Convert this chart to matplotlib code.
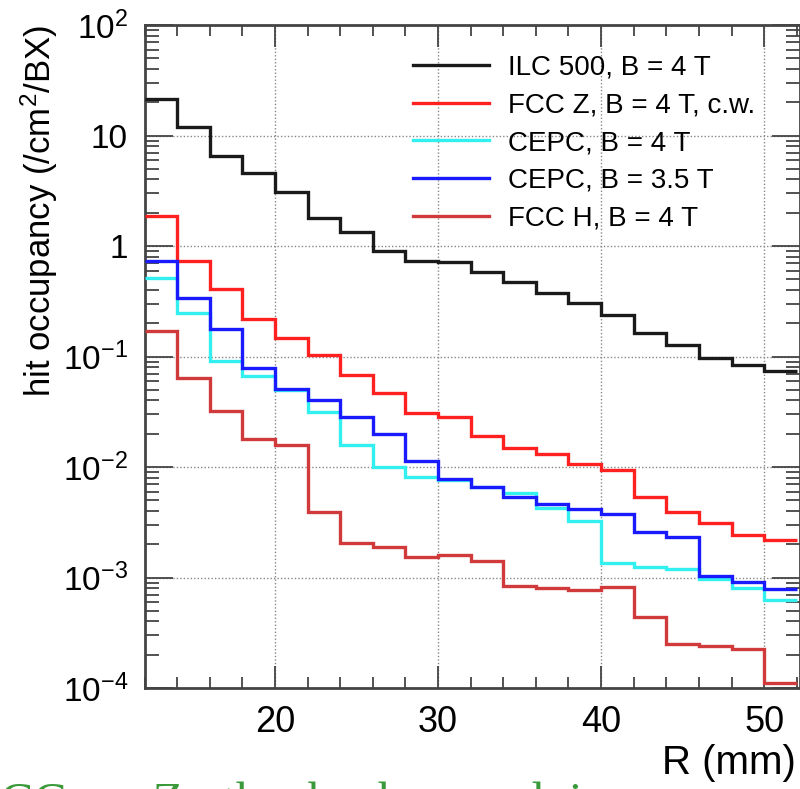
import numpy as np
import matplotlib
matplotlib.use("Agg")
import matplotlib.pyplot as plt
from matplotlib.ticker import FixedLocator, LogLocator, NullFormatter, FixedFormatter

plt.rcParams['font.family'] = ['Liberation Sans', 'DejaVu Sans']
plt.rcParams['mathtext.default'] = 'regular'

# bin edges R (mm)
edges = np.arange(12, 53, 2)

ilc500 = [21.4, 11.9, 6.56, 4.58, 3.08, 1.78, 1.35, 0.908, 0.731, 0.721,
          0.585, 0.475, 0.373, 0.303, 0.238, 0.162, 0.126, 0.097, 0.084, 0.074]
fccz = [1.87, 0.736, 0.408, 0.218, 0.147, 0.103, 0.0681, 0.0465, 0.0310, 0.0285,
        0.0192, 0.0148, 0.0131, 0.0106, 0.0093, 0.0054, 0.0039, 0.0031, 0.0024, 0.0022]
cepc4 = [0.517, 0.246, 0.0916, 0.0670, 0.050, 0.0316, 0.0158, 0.0101, 0.00817, 0.00763,
         0.0066, 0.00578, 0.00423, 0.00325, 0.00134, 0.00125, 0.00120, 0.00097, 0.000798, 0.000625]
cepc35 = [0.736, 0.340, 0.176, 0.0782, 0.0508, 0.0404, 0.0281, 0.0197, 0.01133, 0.00773,
          0.00664, 0.00539, 0.00459, 0.00417, 0.00376, 0.00260, 0.00231, 0.00103, 0.000917, 0.000787]
fcch = [0.170, 0.0635, 0.0321, 0.0178, 0.0157, 0.00394, 0.00207, 0.00188, 0.00152, 0.00160,
        0.00142, 0.000837, 0.000798, 0.000771, 0.000814, 0.000442, 0.000250, 0.000240, 0.000227, 0.000110]

labels = ["ILC 500, B = 4 T", "FCC Z, B = 4 T, c.w.", "CEPC, B = 4 T",
          "CEPC, B = 3.5 T", "FCC H, B = 4 T"]
colors = ["#1a1a1a", "#ff2020", "#33f0f0", "#1a1aff", "#d03a3a"]
series = [ilc500, fccz, cepc4, cepc35, fcch]

xticks = [20, 30, 40, 50]
ydecades = [1e-4, 1e-3, 1e-2, 1e-1, 1, 10, 100]
ylabels = [r"$10^{-4}$", r"$10^{-3}$", r"$10^{-2}$", r"$10^{-1}$", "1", "10", r"$10^{2}$"]

fig = plt.figure(figsize=(8.0, 7.89), dpi=100)
fig.patch.set_facecolor("white")
ax = fig.add_axes([144.6 / 800, 1 - 688 / 789, (800 - 144.6) / 800, 663 / 789])

for vals, c, lab in zip(series, colors, labels):
    ax.stairs(vals, edges, baseline=None, color=c, lw=2.4, label=lab, zorder=3)

ax.set_yscale("log")
ax.set_xlim(12, 52.2)
ax.set_ylim(1e-4, 1e2)

ax.xaxis.set_major_locator(FixedLocator(xticks))
ax.xaxis.set_minor_locator(FixedLocator(list(range(12, 53, 2))))
ax.yaxis.set_major_locator(FixedLocator(ydecades))
ax.yaxis.set_major_formatter(FixedFormatter(ylabels))
ax.yaxis.set_minor_locator(LogLocator(base=10, subs=np.arange(2, 10), numticks=20))
ax.yaxis.set_minor_formatter(NullFormatter())

ax.grid(True, which="major", linestyle=(0, (1, 1.5)), color="#888888", lw=1.0, zorder=1)

ax.tick_params(which="both", direction="in", top=True, right=True, color="#444444", width=1.3)
ax.tick_params(axis="x", which="major", length=16, labelsize=26, pad=12)
ax.tick_params(axis="x", which="minor", length=8)
ax.tick_params(axis="y", which="major", length=20, labelsize=24, pad=12)
ax.tick_params(axis="y", which="minor", length=10)
for s in ax.spines.values():
    s.set_color("#444444")
    s.set_linewidth(2)

ax.set_xlabel("R (mm)", fontsize=29, labelpad=4)
ax.xaxis.set_label_coords(0.994, -0.085)
ax.xaxis.label.set_horizontalalignment("right")
ax.set_ylabel(r"hit occupancy (/cm$^{2}$/BX)", fontsize=25, loc="top", labelpad=2)

leg = ax.legend(loc="upper left", bbox_to_anchor=(0.4095, 0.955), frameon=False,
                fontsize=20, handlelength=2.75, handletextpad=0.66, labelspacing=0.42,
                borderpad=0, borderaxespad=0)
for line in leg.get_lines():
    line.set_linewidth(2.4)

fig.text(0.0, 1 - 782 / 789, "CC-ee  Z:  the  background  is", color="#3a9a3a",
         fontsize=36, family="Liberation Serif", va="top", ha="left")

fig.savefig("out.png", dpi=100, facecolor="white")
